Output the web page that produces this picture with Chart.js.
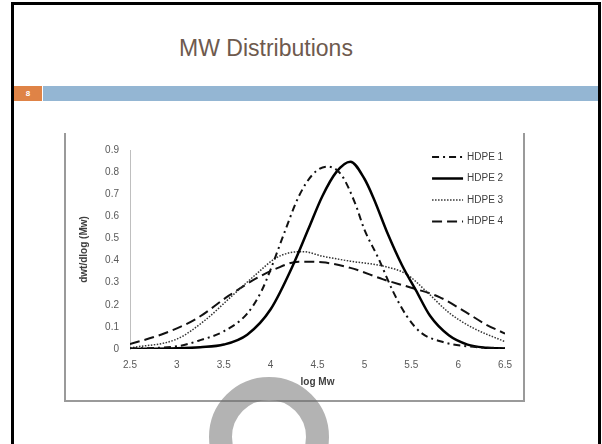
<!DOCTYPE html>
<html>
<head>
<meta charset="utf-8">
<script src="https://cdn.jsdelivr.net/npm/chart.js@4/dist/chart.umd.min.js"></script>
<style>
  body { margin: 0; width: 602px; height: 444px; overflow: hidden; background: #fff; position: relative; font-family: "Liberation Sans", Arial, sans-serif; }
  .slide { position: absolute; left: 11px; top: 2px; width: 584px; height: 500px; border: 3px solid #000; }
  .title { position: absolute; left: 0; width: 532px; top: 35px; text-align: center; font-size: 23px; color: #6e5a4e; }
  .num { position: absolute; left: 14px; top: 86px; width: 28px; height: 15px; background: #df8346; color: #fff; font-size: 8px; font-weight: bold; text-align: center; line-height: 15px; }
  .bar { position: absolute; left: 43px; top: 86px; width: 555px; height: 15px; background: #94b6d3; }
  .frame { position: absolute; left: 64px; top: 133px; width: 457px; height: 267px; border: 2px solid #9a9a9a; border-top: none; }
  #wrap { position: absolute; left: 65px; top: 133px; width: 457px; height: 268px; }
  .ring { position: absolute; left: 209px; top: 377px; width: 74px; height: 74px; border: 23px solid rgba(110,110,110,0.52); border-radius: 50%; }
</style>
</head>
<body>
<div class="slide"></div>
<div class="title">MW Distributions</div>
<div class="num">8</div>
<div class="bar"></div>
<div class="frame"></div>
<div id="wrap"><canvas id="c" width="457" height="268"></canvas></div>
<div class="ring"></div>
<script>
// log Mw positions and dw/dlogM values
var x1 = [2.5, 3.0, 3.25, 3.5, 3.75, 3.9, 4.0, 4.15, 4.3, 4.45, 4.6, 4.75, 4.9, 5.0, 5.15, 5.3, 5.45, 5.6, 5.85, 6.1, 6.5];
var hdpe1 = [0.002, 0.012, 0.04, 0.08, 0.16, 0.26, 0.36, 0.53, 0.69, 0.79, 0.825, 0.79, 0.66, 0.54, 0.41, 0.265, 0.15, 0.075, 0.03, 0.012, 0.003];

var x2 = [2.5, 3.0, 3.25, 3.5, 3.75, 4.0, 4.25, 4.4, 4.55, 4.7, 4.85, 5.0, 5.1, 5.25, 5.4, 5.55, 5.7, 5.9, 6.1, 6.3, 6.5];
var hdpe2 = [0.0, 0.003, 0.008, 0.02, 0.065, 0.18, 0.39, 0.54, 0.69, 0.80, 0.847, 0.77, 0.68, 0.52, 0.38, 0.265, 0.15, 0.062, 0.02, 0.006, 0.002];

var x3 = [2.5, 3.0, 3.3, 3.6, 3.85, 4.05, 4.2, 4.35, 4.55, 4.85, 5.2, 5.45, 5.65, 5.9, 6.15, 6.5];
var hdpe3 = [0.005, 0.045, 0.13, 0.245, 0.34, 0.41, 0.435, 0.44, 0.42, 0.397, 0.375, 0.338, 0.265, 0.165, 0.097, 0.033];

var x4 = [2.5, 2.85, 3.2, 3.55, 3.85, 4.05, 4.3, 4.55, 4.85, 5.2, 5.5, 5.8, 6.05, 6.3, 6.5];
var hdpe4 = [0.022, 0.068, 0.135, 0.24, 0.32, 0.362, 0.395, 0.392, 0.367, 0.315, 0.277, 0.235, 0.175, 0.11, 0.07];

var seriesNames = ['HDPE 1', 'HDPE 2', 'HDPE 3', 'HDPE 4'];

function pts(xs, ys) {
    return xs.map(function (x, i) { return { x: x, y: ys[i] }; });
}

// legend drawn inside the plot, top right, like the original
var insideLegend = {
    id: 'insideLegend',
    afterDraw: function (chart) {
        var ctx = chart.ctx;
        var x0 = chart.chartArea.right - 73;
        var y0 = chart.chartArea.top + 7;
        ctx.save();
        ctx.font = '10px "Liberation Sans", Arial, sans-serif';
        ctx.textBaseline = 'middle';
        chart.data.datasets.forEach(function (ds, i) {
            var y = y0 + i * 21.5;
            ctx.strokeStyle = ds.borderColor;
            ctx.lineWidth = ds.borderWidth;
            ctx.setLineDash(ds.borderDash || []);
            ctx.beginPath();
            ctx.moveTo(x0, y);
            ctx.lineTo(x0 + 31, y);
            ctx.stroke();
            ctx.fillStyle = '#404040';
            ctx.fillText(ds.label, x0 + 35, y);
        });
        ctx.restore();
    }
};

var tickFont = { family: '"Liberation Sans", Arial, sans-serif', size: 10 };

new Chart(document.getElementById('c').getContext('2d'), {
    type: 'line',
    data: {
        datasets: [{
            label: seriesNames[0],
            data: pts(x1, hdpe1),
            borderColor: '#111',
            borderWidth: 2,
            borderDash: [7, 4, 2, 4]
        }, {
            label: seriesNames[1],
            data: pts(x2, hdpe2),
            borderColor: '#000',
            borderWidth: 2.5
        }, {
            label: seriesNames[2],
            data: pts(x3, hdpe3),
            borderColor: '#333',
            borderWidth: 1.5,
            borderDash: [1.5, 1.5]
        }, {
            label: seriesNames[3],
            data: pts(x4, hdpe4),
            borderColor: '#111',
            borderWidth: 2,
            borderDash: [10, 5]
        }]
    },
    options: {
        responsive: false,
        animation: false,
        devicePixelRatio: 1,
        elements: { point: { radius: 0 }, line: { cubicInterpolationMode: 'monotone', fill: false } },
        layout: { padding: { top: 13, right: 14, left: 0, bottom: 0 } },
        plugins: { legend: { display: false }, tooltip: { enabled: false } },
        scales: {
            x: {
                type: 'linear',
                min: 2.5,
                max: 6.5,
                ticks: {
                    stepSize: 0.5, color: '#595959', font: tickFont, padding: 10, maxRotation: 0,
                    callback: function (v) { return String(Math.round(v * 10) / 10); }
                },
                grid: { display: false, drawTicks: false },
                border: { display: false },
                title: { display: true, text: 'log Mw', color: '#404040', font: { family: '"Liberation Sans", Arial, sans-serif', size: 10, weight: 'bold' }, padding: { top: 0, bottom: 13 } },
                afterFit: function (s) { s.height = 52; }
            },
            y: {
                min: 0,
                max: 0.9,
                ticks: { stepSize: 0.1, color: '#595959', font: tickFont, padding: 11 },
                grid: { display: false, drawTicks: false },
                border: { display: true, color: '#bfbfbf', width: 1 },
                title: { display: true, text: 'dwt/dlog (Mw)', color: '#404040', font: { family: '"Liberation Sans", Arial, sans-serif', size: 10, weight: 'bold' }, padding: { top: 13, bottom: 0 } },
                afterFit: function (s) { s.width = 65; }
            }
        }
    },
    plugins: [insideLegend]
});
</script>
</body>
</html>
